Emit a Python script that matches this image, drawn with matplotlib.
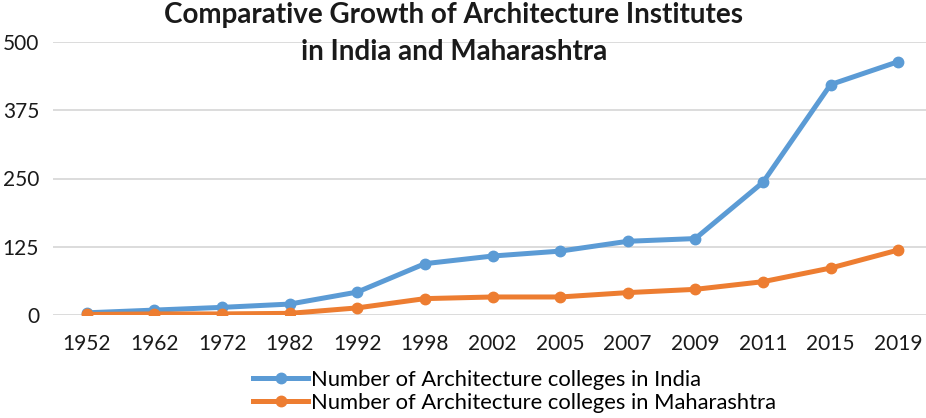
import matplotlib.pyplot as plt
import numpy as np

years = ["1952", "1962", "1972", "1982", "1992", "1998", "2002",
         "2005", "2007", "2009", "2011", "2015", "2019"]
india = [4, 9, 14, 20, 42, 94, 108, 117, 135, 140, 243, 422, 464]
maharashtra = [1, 2, 2, 3, 13, 30, 33, 33, 41, 47, 61, 86, 119]

plt.rcParams['font.family'] = ['Lato', 'DejaVu Sans']

fig = plt.figure(figsize=(9.26, 4.18), dpi=100)
ax = fig.add_axes([53 / 926, 1 - 315 / 418, 879 / 926, 273 / 418])

x = np.arange(len(years))
ax.plot(x, india, color='#5B9BD5', lw=3.6, marker='o', ms=7.5,
        label='Number of Architecture colleges in India', zorder=3)
ax.plot(x, maharashtra, color='#ED7D31', lw=3.6, marker='o', ms=7.5,
        label='Number of Architecture colleges in Maharashtra', zorder=3)

ax.set_xlim(-0.5, len(years) - 0.5)
ax.set_ylim(0, 500)
ax.set_yticks([0, 125, 250, 375, 500])
ax.set_xticks(x)
ax.set_xticklabels(years)
ax.tick_params(axis='both', length=0, labelsize=15, colors='#1a1a1a')
ax.tick_params(axis='y', pad=10)
ax.tick_params(axis='x', pad=14)
ax.grid(axis='y', color='#D9D9D9', lw=1.3)
ax.set_axisbelow(True)
for s in ax.spines.values():
    s.set_visible(False)

fig.text(0.49, 0.995, "Comparative Growth of Architecture Institutes\nin India and Maharashtra",
         ha='center', va='top', fontsize=20, fontweight='bold', color='#1a1a1a',
         linespacing=1.5)

fig.legend(loc='center', bbox_to_anchor=(0.556, 0.064), frameon=False, ncol=1,
           fontsize=15.8, handlelength=2.5, handletextpad=0.15, labelspacing=0.15,
           borderpad=0)

fig.savefig('out.png', dpi=100)
